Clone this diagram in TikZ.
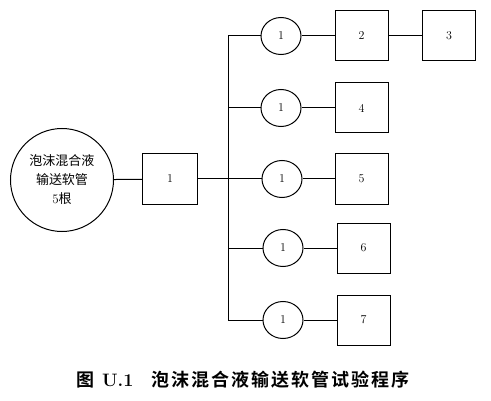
\documentclass[tikz,border=0pt]{standalone}
\usepackage{fontspec}
\usetikzlibrary{shapes.geometric}
\newfontfamily\cjk{Noto Sans CJK SC}
\newfontfamily\cjkb[LetterSpace=11]{Noto Sans CJK SC Bold}

\begin{document}
\begin{tikzpicture}[x=1pt,y=1pt,line width=1pt,
  unit/.style={draw,minimum width=53pt,minimum height=50pt,inner sep=0pt,font=\fontsize{12}{12}\selectfont},
  valve/.style={draw,ellipse,minimum width=40pt,minimum height=37pt,inner sep=0pt,font=\fontsize{12}{12}\selectfont}]
\useasboundingbox (0,0) rectangle (491,400);
\node[draw,circle,minimum size=103pt,inner sep=0pt,align=center,font=\fontsize{13}{19}\selectfont] (hose) at (62,220)
  {{\cjk 泡沫混合液}\\{\cjk 输送软管}\\5{\cjk 根}};
\node[unit,minimum width=55pt] (m1) at (170,221){1};

\coordinate (j1) at (228,364);
\coordinate (j2) at (228,292);
\coordinate (j3) at (228,221);
\coordinate (j4) at (228,152);
\coordinate (j5) at (228,80);

\node[valve] (v1) at (281,364){1};
\node[valve] (v2) at (281,292){1};
\node[valve] (v3) at (282,221){1};
\node[valve] (v4) at (283,152){1};
\node[valve] (v5) at (283,80){1};

\node[unit] (u2) at (361.5,364){2};
\node[unit] (u3) at (449,364){3};
\node[unit] (u4) at (361.5,292){4};
\node[unit] (u5) at (361.5,221){5};
\node[unit] (u6) at (363.5,152){6};
\node[unit] (u7) at (363.5,80){7};

\draw (hose)--(m1);
\draw (m1)--(j3);
\draw (j1)--(j5);
\draw (j1)--(v1) (v1)--(u2) (u2)--(u3);
\draw (j2)--(v2) (v2)--(u4);
\draw (j3)--(v3) (v3)--(u5);
\draw (j4)--(v4) (v4)--(u6);
\draw (j5)--(v5) (v5)--(u7);

\node[font=\fontsize{18}{18}\selectfont] (cap) at (243,20){{\cjkb 图}\ \textbf{U.1}\quad{\cjkb 泡沫混合液输送软管试验程序}};
\end{tikzpicture}
\end{document}
